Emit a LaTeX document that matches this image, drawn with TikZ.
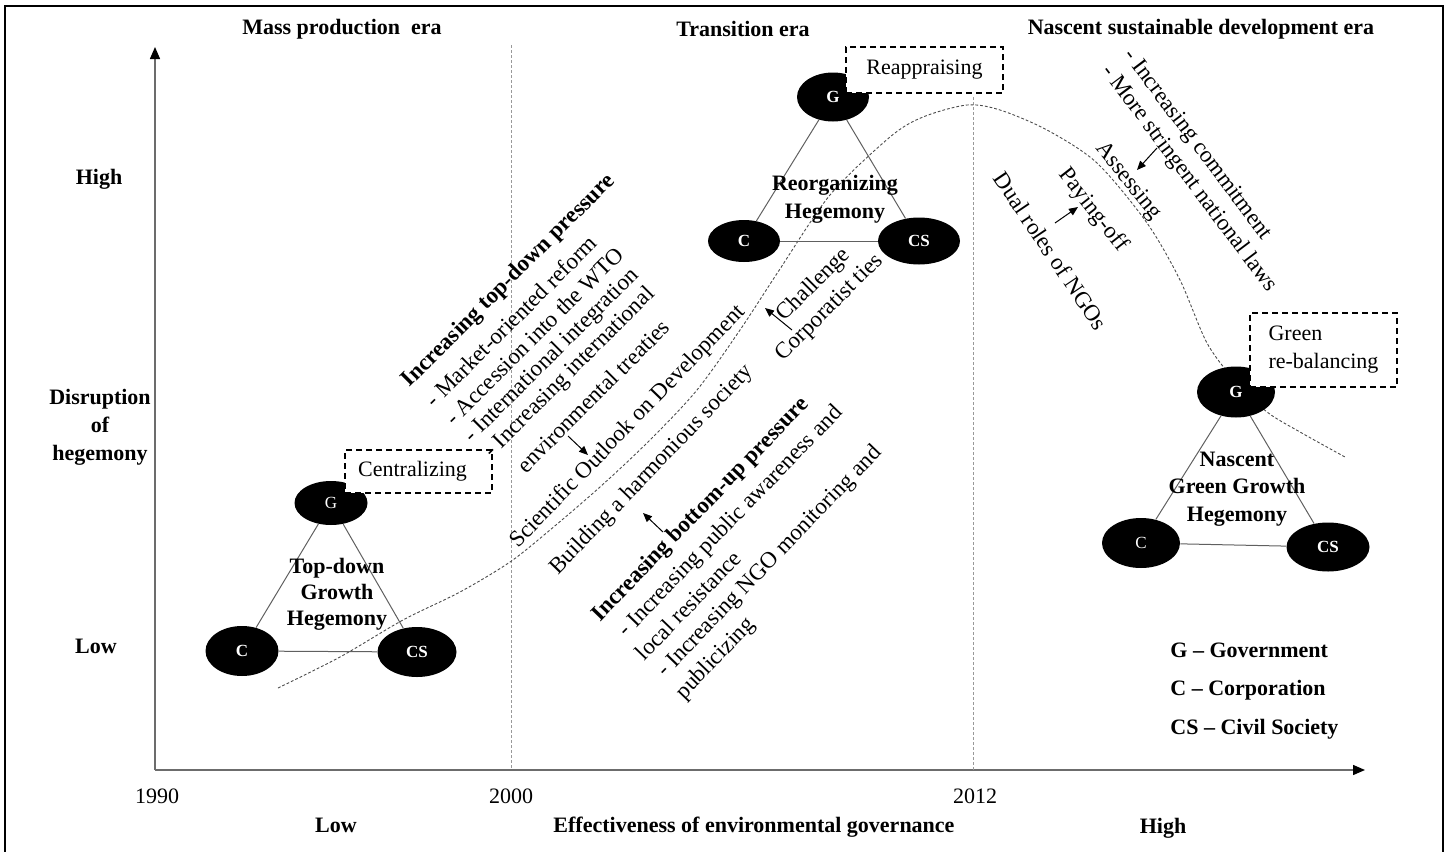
\documentclass[tikz,border=0pt]{standalone}
\usepackage{fontspec}
\setmainfont{Liberation Serif}
\usetikzlibrary{arrows.meta,shapes.geometric}
\tikzset{
  txt/.style={font=\fontsize{11}{13}\selectfont, inner sep=0pt},
  btxt/.style={font=\fontsize{11}{13}\selectfont\bfseries, inner sep=0pt},
  rtxt/.style={font=\fontsize{11.5}{13}\selectfont, inner sep=0pt},
  brtxt/.style={font=\fontsize{11.5}{13}\selectfont\bfseries, inner sep=0pt},
  actor/.style={ellipse, fill=black, text=white, inner sep=0pt},
  abold/.style={font=\fontsize{8.5}{9}\selectfont\bfseries},
  areg/.style={font=\fontsize{8.5}{9}\selectfont},
  tie/.style={draw=gray!75!black, line width=0.5pt},
  dbox/.style={draw=black, fill=white, dash pattern=on 3pt off 2pt, line width=0.8pt, inner sep=0pt, font=\fontsize{11}{14}\selectfont},
  axisline/.style={draw=gray!85!black, line width=0.7pt, -{Triangle[length=6pt,width=5pt,color=black]}},
  sepline/.style={draw=gray!80, line width=0.4pt, dash pattern=on 1.5pt off 1pt},
  trend/.style={draw=gray!60!black, line width=0.45pt, dash pattern=on 1.4pt off 1pt},
  smallarrow/.style={draw=black, line width=0.5pt, -{Triangle[length=4.5pt,width=3.8pt]}},
}
\begin{document}
\begin{tikzpicture}[x=0.5pt,y=-0.5pt]
\useasboundingbox (0,0) rectangle (1448,852);
% frame
\draw[line width=1.4pt] (5,852) -- (5,6) -- (1443,6) -- (1443,852);
% axes
\coordinate (O) at (155,770);
\coordinate (Ytip) at (155,47);
\coordinate (Xtip) at (1365,770);
\draw[axisline] (O) -- (Ytip);
\draw[axisline] (O) -- (Xtip);
% era separators
\coordinate (s1t) at (511,45); \coordinate (s1b) at (511,770);
\coordinate (s2t) at (973,97); \coordinate (s2b) at (973,770);
\draw[sepline] (s1t) -- (s1b);
\draw[sepline] (s2t) -- (s2b);
% trend curve
\draw[trend] plot[smooth] coordinates {(278,688) (340,657) (403,620) (460,592) (510,562) (550,530) (600,487) (650,440) (697,390) (740,330) (778,272) (830,195) (890,137) (923,117) (967,105) (1000,110) (1047,130) (1097,163) (1147,223) (1180,280) (1207,343) (1236,382) (1267,412) (1300,432) (1345,457)};

% era headers
\node[btxt] (era1) at (342,29) {Mass production\ \ era};
\node[btxt] (era2) at (743,29) {Transition era};
\node[btxt] (era3) at (1201,29) {Nascent sustainable development era};

% y-axis labels
\node[btxt] (yhigh) at (99,179) {High};
\node[btxt, align=center, font=\fontsize{11}{14}\selectfont\bfseries] (ymid) at (100,427) {Disruption\\of\\hegemony};
\node[btxt] (ylow) at (96,646) {Low};

% x-axis labels
\node[txt] (y1990) at (157,796) {1990};
\node[txt] (y2000) at (511,796) {2000};
\node[txt] (y2012) at (975,796) {2012};
\node[btxt] (xlow) at (336,825) {Low};
\node[btxt] (xtitle) at (754,827) {Effectiveness of environmental governance};
\node[btxt] (xhigh) at (1163,828) {High};

% triangle 1
\node[actor, areg, minimum width=36.5pt, minimum height=22pt] (G1) at (331,503) {G};
\node[actor, abold, minimum width=36.5pt, minimum height=25pt] (C1) at (242,651) {C};
\node[actor, abold, minimum width=39.5pt, minimum height=25pt] (CS1) at (417,652) {CS};
\draw[tie] (G1) -- (C1);
\draw[tie] (G1) -- (CS1);
\draw[tie] (C1) -- (CS1);
\node[btxt, align=center, font=\fontsize{11}{13}\selectfont\bfseries] (T1) at (337,594) {Top-down\\Growth\\Hegemony};
\node[dbox, minimum width=73.5pt, minimum height=21.5pt] (B1) at (418.5,471.5) {Centralizing\hspace*{6pt}};

% triangle 2
\node[actor, abold, minimum width=36pt, minimum height=24.5pt] (G2) at (833,97) {G};
\node[actor, abold, minimum width=36pt, minimum height=21pt] (C2) at (744,241) {C};
\node[actor, abold, minimum width=41pt, minimum height=23.5pt] (CS2) at (919,241) {CS};
\draw[tie] (G2) -- (C2);
\draw[tie] (G2) -- (CS2);
\draw[tie] (C2) -- (CS2);
\node[btxt, align=center, font=\fontsize{11}{14}\selectfont\bfseries] (T2) at (835,199) {Reorganizing\\Hegemony};
\node[dbox, minimum width=78.5pt, minimum height=23pt] (B2) at (924.5,70) {Reappraising};

% triangle 3
\node[actor, abold, minimum width=39pt, minimum height=25.5pt] (G3) at (1236,392) {G};
\node[actor, areg, minimum width=39pt, minimum height=25pt] (C3) at (1141,543) {C};
\node[actor, abold, minimum width=41.5pt, minimum height=24.5pt] (CS3) at (1328,547) {CS};
\draw[tie] (G3) -- (C3);
\draw[tie] (G3) -- (CS3);
\draw[tie] (C3) -- (CS3);
\node[btxt, align=center, font=\fontsize{11}{13.75}\selectfont\bfseries] (T3) at (1237,489) {Nascent\\Green Growth\\Hegemony};
\node[dbox, align=left, minimum width=73.5pt, minimum height=37pt] (B3) at (1323.5,350) {Green\\re-balancing};

% legend
\node[btxt, anchor=west] (L1) at (1170,650) {G \textendash{} Government};
\node[btxt, anchor=west] (L2) at (1170,690) {C \textendash{} Corporation};
\node[btxt, anchor=west] (L3) at (1170,729) {CS \textendash{} Civil Society};

% top-down pressure block
\node[brtxt, rotate=45] (td0) at (509,281) {Increasing top-down pressure};
\node[rtxt, rotate=45] (td1) at (511,321) {- Market-oriented reform};
\node[rtxt, rotate=45] (td2) at (534,336) {- Accession into the WTO};
\node[rtxt, rotate=45] (td3) at (552,356) {- International integration};
\node[rtxt, rotate=45] (td4) at (570,373) {- Increasing international};
\node[rtxt, rotate=45] (td5) at (593,396) {environmental treaties};

% middle
\node[rtxt, rotate=46] (sod) at (628,427) {Scientific Outlook on Development};
\node[rtxt, rotate=46] (bhs) at (652,470) {Building a harmonious society};
\node[brtxt, rotate=46] (bu0) at (701,510) {Increasing bottom-up pressure};
\node[rtxt, rotate=46] (bu1) at (731,522) {- Increasing public awareness and};
\node[rtxt, rotate=46] (bu2) at (688,605) {local resistance};
\node[rtxt, rotate=46] (bu3) at (770,562) {- Increasing NGO monitoring and};
\node[rtxt, rotate=46] (bu4) at (716,659) {publicizing};
\node[rtxt, rotate=45] (chal) at (814,285) {Challenge};
\node[rtxt, rotate=45] (corp) at (830,308) {Corporatist ties};

% right block
\node[rtxt, rotate=-53] (r1) at (1197,145) {- Increasing commitment};
\node[rtxt, rotate=-53] (r2) at (1189,179) {- More stringent national laws};
\node[rtxt, rotate=-51] (r3) at (1128,181) {Assessing};
\node[rtxt, rotate=-52] (r4) at (1093,210) {Paying-off};
\node[rtxt, rotate=-56] (r5) at (1051,251) {Dual roles of NGOs};

% small arrows
\coordinate (a1s) at (568,436); \coordinate (a1e) at (588,455);
\coordinate (a2s) at (663,532); \coordinate (a2e) at (643,513);
\coordinate (a3s) at (792,330); \coordinate (a3e) at (765,308);
\coordinate (a4s) at (1157,148); \coordinate (a4e) at (1137,170);
\coordinate (a5s) at (1055,223); \coordinate (a5e) at (1078,207);
\draw[smallarrow] (a1s) -- (a1e);
\draw[smallarrow] (a2s) -- (a2e);
\draw[smallarrow] (a3s) -- (a3e);
\draw[smallarrow] (a4s) -- (a4e);
\draw[smallarrow] (a5s) -- (a5e);
\end{tikzpicture}
\end{document}
